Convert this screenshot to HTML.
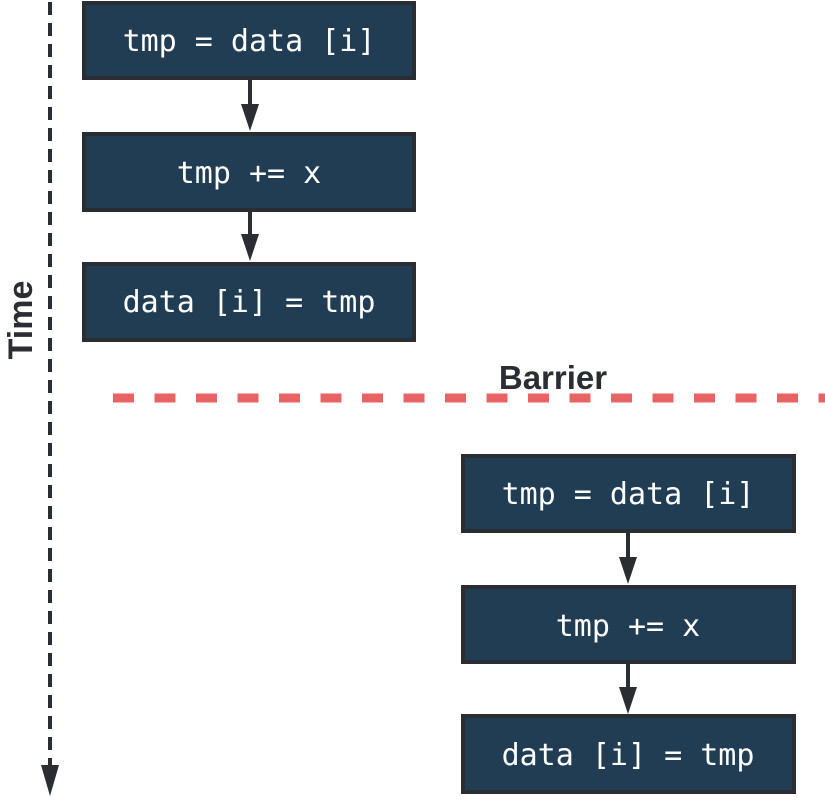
<!DOCTYPE html>
<html><head><style>
body{margin:0;background:#fff;width:825px;height:796px;overflow:hidden}
</style></head><body>
<svg width="825" height="796" xmlns="http://www.w3.org/2000/svg">
<line x1="50" y1="2" x2="50" y2="768" stroke="#2a2e33" stroke-width="4" stroke-dasharray="13,8"/>
<polygon points="41,765 59,765 50,796" fill="#2a2e33"/>
<text transform="translate(32,320) rotate(-90)" text-anchor="middle" font-family="Liberation Sans, sans-serif" font-weight="bold" font-size="34" fill="#2a2e33">Time</text>
<line x1="113" y1="398" x2="825" y2="398" stroke="#e86464" stroke-width="9" stroke-dasharray="21,20.5"/>
<text x="553" y="389" text-anchor="middle" font-family="Liberation Sans, sans-serif" font-weight="bold" font-size="33" fill="#2a2e33">Barrier</text>
<g stroke="#2a2e33" stroke-width="4">
<rect x="84" y="3" width="330" height="75" fill="#213d54"/>
<rect x="84" y="134" width="330" height="76" fill="#213d54"/>
<rect x="84" y="264" width="330" height="76" fill="#213d54"/>
<rect x="463" y="456" width="331" height="75" fill="#213d54"/>
<rect x="463" y="587" width="331" height="75" fill="#213d54"/>
<rect x="463" y="716" width="331" height="76" fill="#213d54"/>
</g>
<g font-family="DejaVu Sans Mono, Liberation Mono, monospace" font-size="30" fill="#fff" text-anchor="middle">
<text x="249" y="51">tmp = data [i]</text>
<text x="249" y="183">tmp += x</text>
<text x="249" y="312">data [i] = tmp</text>
<text x="628" y="504">tmp = data [i]</text>
<text x="628" y="636">tmp += x</text>
<text x="628" y="765">data [i] = tmp</text>
</g>
<g stroke="#2a2e33" stroke-width="4" fill="#2a2e33">
<line x1="250" y1="79" x2="250" y2="110"/><polygon points="241,104 259,104 250,131" stroke="none"/>
<line x1="250" y1="210" x2="250" y2="240"/><polygon points="241,234 259,234 250,261" stroke="none"/>
<line x1="628" y1="531" x2="628" y2="562"/><polygon points="619,557 637,557 628,584" stroke="none"/>
<line x1="628" y1="662" x2="628" y2="692"/><polygon points="619,687 637,687 628,714" stroke="none"/>
</g>
</svg>
</body></html>
